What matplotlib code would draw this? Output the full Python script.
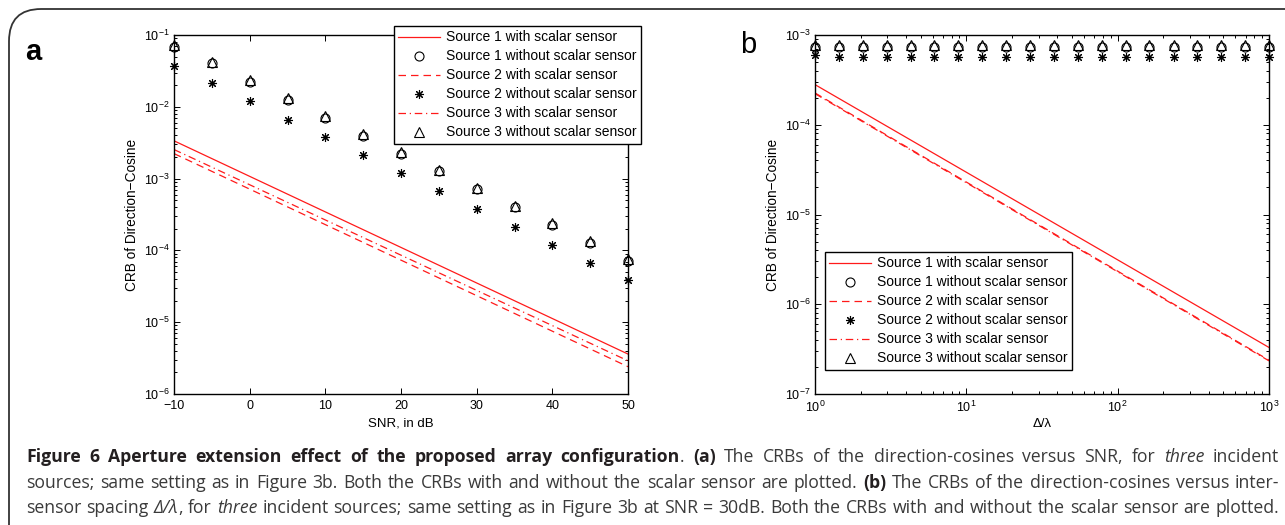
import matplotlib
matplotlib.use("Agg")
import matplotlib.pyplot as plt
from matplotlib.patches import FancyBboxPatch
from matplotlib.lines import Line2D
from matplotlib import font_manager
import numpy as np

# ---------------- data ----------------
snr_db = [-10, -5, 0, 5, 10, 15, 20, 25, 30, 35, 40, 45, 50]
a_src1_without = [0.0687, 0.0403, 0.0223, 0.0124, 0.00703, 0.00394, 0.00223,
                  0.00126, 0.00071, 0.000403, 0.000226, 0.000128, 7.2e-5]
a_src2_without = [0.0373, 0.0212, 0.0120, 0.00665, 0.00381, 0.00214, 0.00120,
                  0.000673, 0.000378, 0.000212, 0.000120, 6.73e-5, 3.81e-5]
a_src3_without = [0.0720, 0.0420, 0.0235, 0.0131, 0.00740, 0.00420, 0.00235,
                  0.00132, 0.00075, 0.00042, 0.000237, 0.000134, 7.6e-5]
a_line_snr = [-10, 50]
a_src1_with = [3.36e-3, 3.6e-6]
a_src2_with = [2.23e-3, 2.4e-6]
a_src3_with = [2.54e-3, 2.9e-6]

spacing = [1, 1.44, 2.07, 2.98, 4.28, 6.16, 8.86, 12.7, 18.3, 26.4,
           37.9, 54.6, 78.5, 113, 162, 234, 336, 483, 695, 1000]
b_src1_without = [7.4e-4] * 20
b_src2_without = [6.0e-4] + [5.72e-4] * 19
b_src3_without = [7.66e-4] * 20
b_line_spacing = [1, 1000]
b_src1_with = [2.8e-4, 3.3e-7]
b_src2_with = [2.26e-4, 2.38e-7]
b_src3_with = [2.22e-4, 2.34e-7]

labels = ["Source 1 with scalar sensor", "Source 1 without scalar sensor",
          "Source 2 with scalar sensor", "Source 2 without scalar sensor",
          "Source 3 with scalar sensor", "Source 3 without scalar sensor"]

caption_lines = [
    [("Figure 6 Aperture extension effect of the proposed array configuration", "b"), (". ", "n"),
     ("(a)", "b"), (" The CRBs of the direction-cosines versus SNR, for ", "n"), ("three", "i"), (" incident", "n")],
    [("sources; same setting as in Figure 3b. Both the CRBs with and without the scalar sensor are plotted. ", "n"),
     ("(b)", "b"), (" The CRBs of the direction-cosines versus inter-", "n")],
    [("sensor spacing ", "n"), ("Δ/λ", "i"), (", for ", "n"), ("three", "i"),
     (" incident sources; same setting as in Figure 3b at SNR = 30dB. Both the CRBs with and without the scalar sensor are plotted.", "n")],
]

# ---------------- style ----------------
W, H = 1285, 525
plt.rcParams['font.family'] = ['Liberation Sans', 'DejaVu Sans']
plt.rcParams['mathtext.fontset'] = 'custom'
plt.rcParams['mathtext.rm'] = 'Liberation Sans'
plt.rcParams['mathtext.default'] = 'regular'
plt.rcParams['axes.unicode_minus'] = True

fig = plt.figure(figsize=(W / 100, H / 100), dpi=100)
fig.patch.set_facecolor('white')

def fx(px):
    return px / W

def fy(py):
    return 1 - py / H

# rounded frame (right and bottom edges run off the picture)
frame = FancyBboxPatch((fx(9), fy(560)), fx(1400), (560 - 9) / H,
                       boxstyle="round,pad=0,rounding_size=0.025",
                       transform=fig.transFigure, fill=False,
                       edgecolor='#333333', linewidth=1.3, mutation_aspect=W / H)
fig.patches.append(frame)

RED = '#ff1a1a'
asterisk = (8, 2, 0)

def style_axes(ax):
    ax.tick_params(which='both', direction='in', top=True, right=True,
                   labelsize=9, width=0.7, pad=3)
    ax.tick_params(axis='x', which='both', pad=4.5)
    ax.tick_params(which='major', length=4)
    ax.tick_params(which='minor', length=2)
    for s in ax.spines.values():
        s.set_linewidth(1.0)
        s.set_color('black')

def draw_panel(ax, x_line, l1, l2, l3, x_m, m1, m2, m3):
    ax.plot(x_line, l1, color=RED, lw=0.9, ls='-')
    ax.plot(x_m, m1, ls='none', marker='o', mfc='none', mec='black', ms=6.5, mew=0.8, clip_on=False)
    ax.plot(x_line, l2, color=RED, lw=0.9, ls=(0, (6, 4)))
    ax.plot(x_m, m2, ls='none', marker=asterisk, mec='black', ms=6.5, mew=0.8, clip_on=False)
    ax.plot(x_line, l3, color=RED, lw=0.9, ls=(0, (6, 3, 1, 3)))
    ax.plot(x_m, m3, ls='none', marker='^', mfc='none', mec='black', ms=7, mew=0.8, clip_on=False)

def make_legend(ax, anchor_px):
    handles = [
        Line2D([], [], color=RED, lw=0.9, ls='-'),
        Line2D([], [], ls='none', marker='o', mfc='none', mec='black', ms=6.5, mew=0.8),
        Line2D([], [], color=RED, lw=0.9, ls=(0, (6, 4))),
        Line2D([], [], ls='none', marker=asterisk, mec='black', ms=6.5, mew=0.8),
        Line2D([], [], color=RED, lw=0.9, ls=(0, (6, 3, 1, 3))),
        Line2D([], [], ls='none', marker='^', mfc='none', mec='black', ms=7, mew=0.8),
    ]
    leg = ax.legend(handles, labels, loc='upper left',
                    bbox_to_anchor=(fx(anchor_px[0]), fy(anchor_px[1])),
                    bbox_transform=fig.transFigure, borderaxespad=0,
                    fontsize=10, frameon=True, fancybox=False, shadow=False,
                    framealpha=1, edgecolor='black', handlelength=3.0,
                    handletextpad=0.4, labelspacing=0.36, borderpad=0.32)
    leg.get_frame().set_linewidth(1.0)
    return leg

# ---- panel a ----
axa = fig.add_axes([fx(174), fy(394), (628 - 174) / W, (394 - 35) / H])
draw_panel(axa, a_line_snr, a_src1_with, a_src2_with, a_src3_with,
           snr_db, a_src1_without, a_src2_without, a_src3_without)
axa.set_yscale('log')
axa.set_xlim(-10, 50)
axa.set_ylim(1e-6, 1e-1)
axa.set_xticks([-10, 0, 10, 20, 30, 40, 50])
style_axes(axa)
axa.set_xlabel('SNR, in dB', fontsize=9.5, labelpad=4)
axa.set_ylabel('CRB of Direction\u2212Cosine', fontsize=9.8, labelpad=4)
make_legend(axa, (394, 26))

# ---- panel b ----
axb = fig.add_axes([fx(815), fy(394), (1269 - 815) / W, (394 - 35) / H])
draw_panel(axb, b_line_spacing, b_src1_with, b_src2_with, b_src3_with,
           spacing, b_src1_without, b_src2_without, b_src3_without)
axb.set_xscale('log')
axb.set_yscale('log')
axb.set_xlim(1, 1000)
axb.set_ylim(1e-7, 1e-3)
style_axes(axb)
axb.set_xlabel('\u0394/\u03bb', fontsize=9.5, labelpad=2)
axb.set_ylabel('CRB of Direction\u2212Cosine', fontsize=9.8, labelpad=4)
make_legend(axb, (825, 252))

fig.text(fx(33), fy(52), 'a', fontsize=21, fontweight='bold', ha='center', va='center')
fig.text(fx(748), fy(45), 'b', fontsize=21, ha='center', va='center')

# ---------------- caption (justified) ----------------
cap_family = 'Open Sans'
for cand in ['Liberation Sans Narrow', 'Open Sans']:
    try:
        font_manager.findfont(font_manager.FontProperties(family=cand), fallback_to_default=False)
        cap_family = cand
        break
    except Exception:
        pass

renderer = fig.canvas.get_renderer()

def seg_props(style, size):
    d = dict(fontsize=size, family=[cap_family, 'DejaVu Sans'], color='#3a3a3a')
    if style == 'b':
        d['fontweight'] = 'bold'
        d['color'] = '#231f20'
    elif style == 'i':
        d['fontstyle'] = 'italic'
    return d

def words_of(runs):
    words = [[]]
    for text, style in runs:
        parts = text.split(' ')
        for k, p in enumerate(parts):
            if k > 0:
                words.append([])
            if p:
                words[-1].append((p, style))
    return [w for w in words if w]

def measure(s, style, size):
    t = fig.text(0, 0, s, **seg_props(style, size))
    w = t.get_window_extent(renderer).width
    t.remove()
    return w

x0, x1 = 26, 1279
baselines = [462, 488, 513]
size = 14.0
space_w = measure('a a', 'n', size) - 2 * measure('a', 'n', size)
maxw = 0
for runs in caption_lines:
    ws = words_of(runs)
    tot = sum(measure(s, st, size) for w in ws for s, st in w) + space_w * (len(ws) - 1)
    maxw = max(maxw, tot)
size = min(size, size * (x1 - x0) / maxw * 0.995)

for runs, yb in zip(caption_lines, baselines):
    ws = words_of(runs)
    widths = [[measure(s, st, size) for s, st in w] for w in ws]
    total = sum(sum(w) for w in widths)
    gap = (x1 - x0 - total) / (len(ws) - 1)
    x = x0
    for w, wl in zip(ws, widths):
        for (s, st), sw in zip(w, wl):
            fig.text(fx(x), fy(yb), s, va='baseline', ha='left', **seg_props(st, size))
            x += sw
        x += gap

fig.savefig('out.png', dpi=100, facecolor='white')
